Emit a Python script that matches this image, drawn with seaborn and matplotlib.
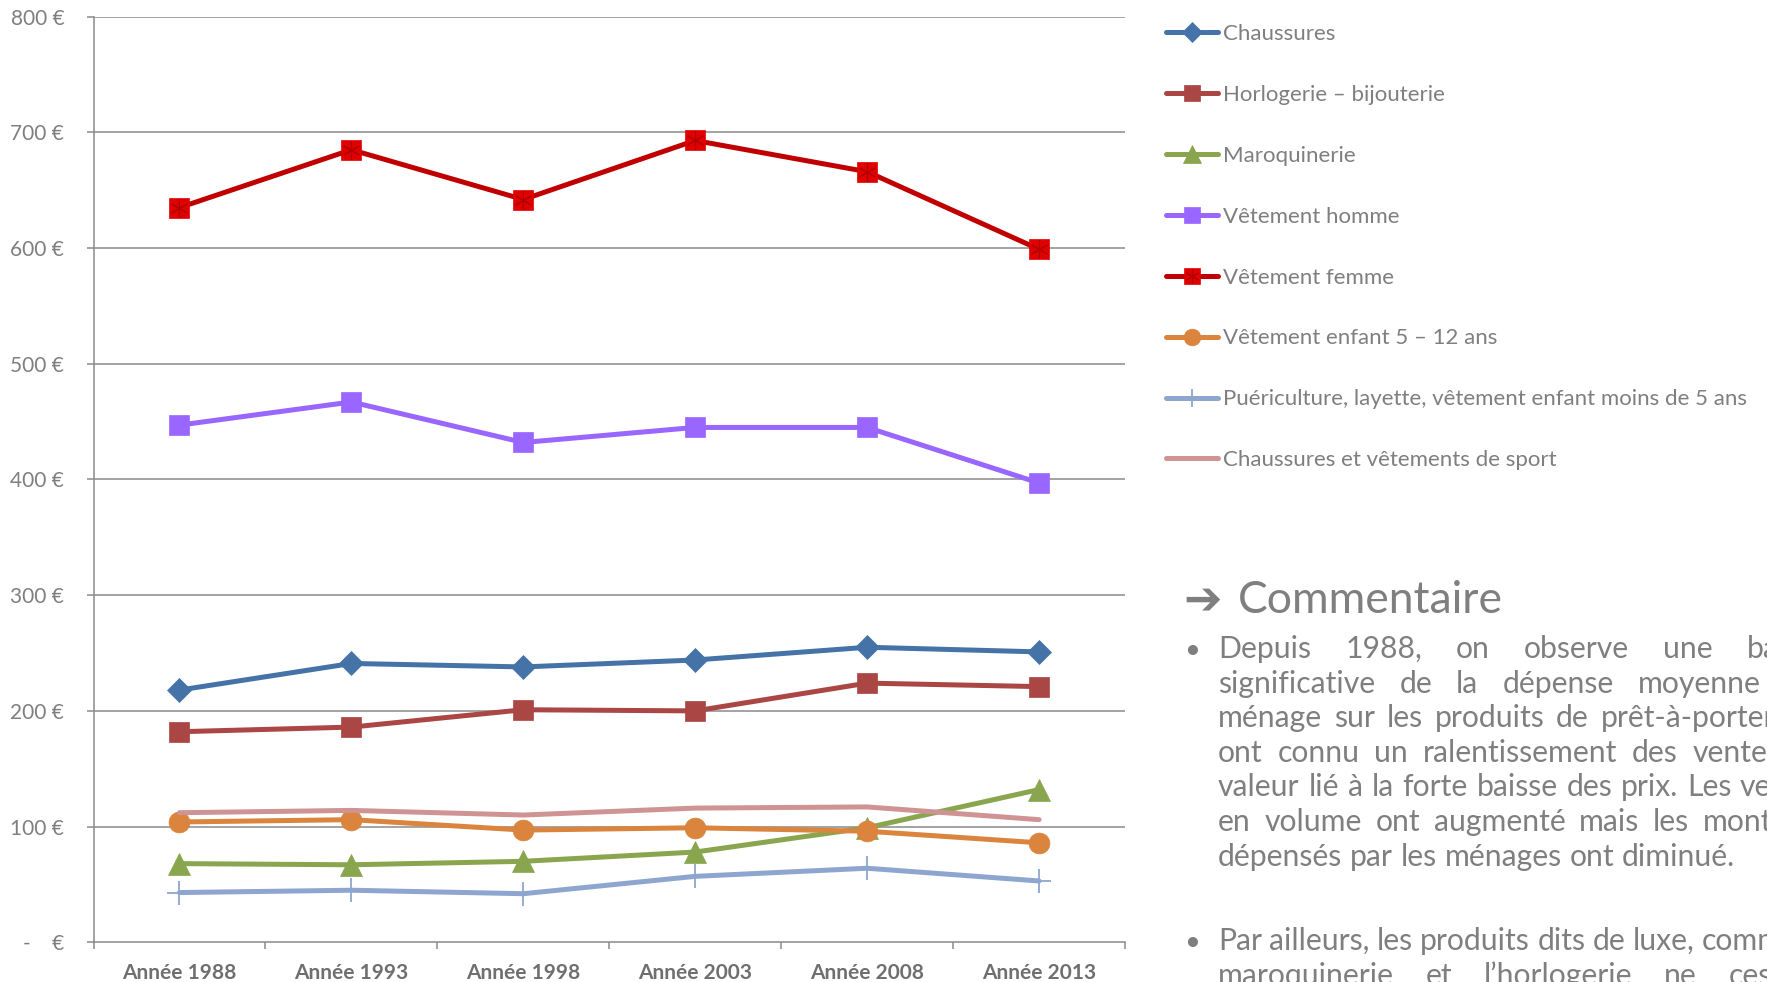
import matplotlib
matplotlib.use("Agg")
import matplotlib.pyplot as plt
import seaborn as sns
from matplotlib.lines import Line2D

# ---- data -------------------------------------------------------------
years = ["Année 1988", "Année 1993", "Année 1998", "Année 2003", "Année 2008", "Année 2013"]

chaussures = [218, 241, 238, 244, 255, 251]
horlogerie = [182, 186, 201, 200, 224, 221]
maroquinerie = [68, 67, 70, 78, 99, 132]
vetement_homme = [447, 467, 432, 445, 445, 397]
vetement_femme = [635, 685, 642, 693, 666, 599]
vetement_enfant = [104, 106, 97, 99, 96, 86]
puericulture = [43, 45, 42, 57, 64, 53]
sport = [112, 114, 110, 116, 117, 106]

series_labels = [
    "Chaussures",
    "Horlogerie – bijouterie",
    "Maroquinerie",
    "Vêtement homme",
    "Vêtement femme",
    "Vêtement enfant 5 – 12 ans",
    "Puériculture, layette, vêtement enfant moins de 5 ans",
    "Chaussures et vêtements de sport",
]

y_ticks = [0, 100, 200, 300, 400, 500, 600, 700, 800]
y_tick_labels = ["-    €", "100 €", "200 €", "300 €", "400 €", "500 €", "600 €", "700 €", "800 €"]

comment_title = "Commentaire"
paragraph_1 = [
    "Depuis 1988, on observe une baisse",
    "significative de la dépense moyenne par",
    "ménage sur les produits de prêt-à-porter qui",
    "ont connu un ralentissement des ventes en",
    "valeur lié à la forte baisse des prix. Les ventes",
    "en volume ont augmenté mais les montants",
    "dépensés par les ménages ont diminué.",
]
paragraph_2 = [
    "Par ailleurs, les produits dits de luxe, comme la",
    "maroquinerie et l’horlogerie ne cessent",
]

# ---- style ------------------------------------------------------------
W, H = 1767, 982
sns.set_theme(style="white")
FONT = ["Lato", "DejaVu Sans"]
plt.rcParams["font.family"] = FONT
TEXT_GREY = "#7f7f7f"
GRID_GREY = "#8a8a8a"

fig = plt.figure(figsize=(W / 100, H / 100), dpi=100)
fig.patch.set_facecolor("white")


def fx(px):
    return px / W


def fy(py):
    return 1 - py / H


ax = fig.add_axes([fx(93.5), fy(942.3), fx(1125) - fx(93.5), fy(16.7) - fy(942.3)])
ax.set_facecolor("white")

LW = 3.6
styles = [
    dict(values=chaussures, color="#4572a7", marker="D", ms=12.5),
    dict(values=horlogerie, color="#aa4643", marker="s", ms=14),
    dict(values=maroquinerie, color="#89a54e", marker="^", ms=15.5),
    dict(values=vetement_homme, color="#9966ff", marker="s", ms=15),
    dict(values=vetement_femme, color="#c00000", marker="s", ms=15, mfc="#e00000"),
    dict(values=vetement_enfant, color="#db843d", marker="o", ms=15),
    dict(values=puericulture, color="#8ea6cf", marker="+", ms=17, mew=1.3),
    dict(values=sport, color="#d09393", marker=None, ms=0),
]

handles = []
for label, st in zip(series_labels, styles):
    mfc = st.get("mfc", st["color"])
    kw = dict(
        x=years, y=st["values"], ax=ax, color=st["color"], linewidth=LW,
        sort=False, legend=False, zorder=3,
    )
    if st["marker"] is not None:
        kw.update(marker=st["marker"], markersize=st["ms"], markerfacecolor=mfc,
                  markeredgecolor=mfc, markeredgewidth=st.get("mew", 0.5))
    sns.lineplot(**kw)
    h = Line2D([], [], color=st["color"], lw=LW,
               marker=st["marker"] if st["marker"] else None,
               markersize=st["ms"] * 0.8, markerfacecolor=mfc, markeredgecolor=mfc,
               markeredgewidth=st.get("mew", 0.5))
    if label == "Vêtement femme":
        # asterisk drawn inside the red square markers
        ax.plot(years, st["values"], linestyle="none", marker=(6, 2, 0),
                markersize=13, markeredgecolor="#b00000", markeredgewidth=0.8, zorder=4)
        h = (h, Line2D([], [], linestyle="none", marker=(6, 2, 0), markersize=10,
                       markeredgecolor="#b00000", markeredgewidth=0.8))
    handles.append(h)

# ---- axes -------------------------------------------------------------
ax.set_xlim(-0.5, len(years) - 0.5)
ax.set_ylim(0, 800)
ax.set_yticks(y_ticks)
ax.set_yticklabels(y_tick_labels)
ax.set_xticks(range(len(years)))
ax.set_xticklabels(years)
ax.set_xticks([i - 0.5 for i in range(len(years) + 1)], minor=True)
ax.set_xlabel("")
ax.set_ylabel("")

ax.grid(False)
for yv in y_ticks[1:]:
    ax.axhline(yv, color=GRID_GREY, lw=1.1, zorder=1)

for side in ["top", "right"]:
    ax.spines[side].set_visible(False)
for side in ["left", "bottom"]:
    ax.spines[side].set_color(GRID_GREY)
    ax.spines[side].set_linewidth(1.1)

ax.tick_params(axis="y", which="major", direction="out", length=5, width=1.1,
               color=GRID_GREY, pad=16, labelsize=15, labelcolor=TEXT_GREY, left=True)
ax.tick_params(axis="x", which="major", length=0, pad=15, labelsize=15,
               labelcolor="#6f6f6f")
ax.tick_params(axis="x", which="minor", direction="out", length=5, width=1.1,
               color=GRID_GREY, bottom=True)
for t in ax.get_xticklabels():
    t.set_fontweight("bold")

# ---- legend -----------------------------------------------------------
leg = ax.legend(
    handles, series_labels, loc="upper left",
    bbox_to_anchor=(fx(1166), fy(24)), bbox_transform=fig.transFigure,
    frameon=False, fontsize=16, labelcolor=TEXT_GREY, handlelength=2.35,
    handletextpad=0.2, labelspacing=1.84, borderpad=0, borderaxespad=0,
)

# ---- commentary -------------------------------------------------------
renderer = fig.canvas.get_renderer()
BODY = 21.7


def text_width(s, size, **kw):
    t = fig.text(0, 0, s, fontsize=size, **kw)
    w = t.get_window_extent(renderer).width
    t.remove()
    return w


space_w = text_width("n n", BODY) - text_width("nn", BODY)

fig.text(fx(1183), fy(613), "➔", fontsize=33, color=TEXT_GREY,
         family=["DejaVu Sans"], va="baseline", ha="left", fontweight="bold")
fig.text(fx(1238), fy(613), comment_title, fontsize=32, color=TEXT_GREY,
         va="baseline", ha="left")

X_LEFT, X_RIGHT = 1218, 1828
LINE_STEP = 34.6


def draw_paragraph(lines, first_baseline, ends_paragraph):
    fig.text(fx(1184), fy(first_baseline), "•", fontsize=BODY * 0.9, color=TEXT_GREY,
             va="baseline", ha="left")
    for i, line in enumerate(lines):
        yb = first_baseline + i * LINE_STEP
        words = line.split(" ")
        widths = [text_width(w, BODY) for w in words]
        last = ends_paragraph and i == len(lines) - 1
        if last or len(words) == 1:
            gap = space_w
        else:
            gap = (X_RIGHT - X_LEFT - sum(widths)) / (len(words) - 1)
        x = X_LEFT
        for w, wd in zip(words, widths):
            fig.text(fx(x), fy(yb), w, fontsize=BODY, color=TEXT_GREY,
                     va="baseline", ha="left")
            x += wd + gap


draw_paragraph(paragraph_1, 658, True)
draw_paragraph(paragraph_2, 950, False)

fig.savefig("out.png", dpi=100, facecolor="white")
